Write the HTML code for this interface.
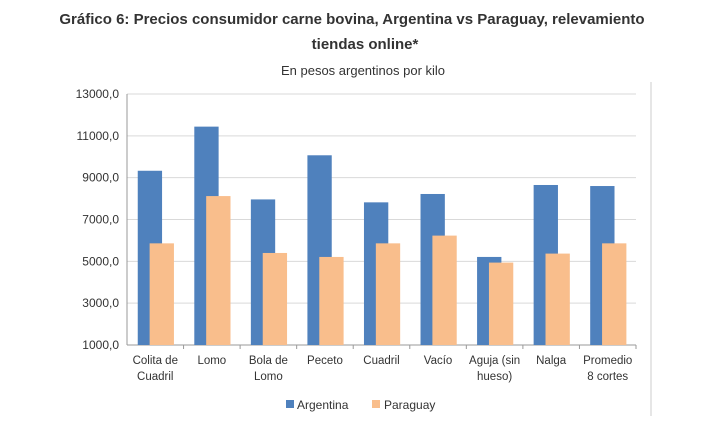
<!DOCTYPE html>
<html><head><meta charset="utf-8"><style>
body{margin:0;background:#fff;width:724px;height:416px;overflow:hidden;font-family:"Liberation Sans",sans-serif}
</style></head><body>
<svg width="724" height="416" xmlns="http://www.w3.org/2000/svg">
<text x="352" y="24" text-anchor="middle" font-size="15" font-weight="bold" fill="#333">Gráfico 6: Precios consumidor carne bovina, Argentina vs Paraguay, relevamiento</text>
<text x="365" y="49" text-anchor="middle" font-size="15" font-weight="bold" fill="#333">tiendas online*</text>
<text x="363" y="75" text-anchor="middle" font-size="13" fill="#333">En pesos argentinos por kilo</text>
<line x1="651" y1="82" x2="651" y2="416" stroke="#ccc"/>
<g id="grid"></g><g id="bars"></g><g id="xaxis"></g>
<g>
<rect x="286" y="400" width="8" height="8" fill="#4f81bd"/>
<text x="297" y="409" font-size="12" fill="#333">Argentina</text>
<rect x="372" y="400" width="8" height="8" fill="#f9be8c"/>
<text x="384" y="409" font-size="12" fill="#333">Paraguay</text>
</g>
</svg>
<script>
const categories=[["Colita de","Cuadril"],["Lomo"],["Bola de","Lomo"],["Peceto"],["Cuadril"],["Vacío"],["Aguja (sin","hueso)"],["Nalga"],["Promedio","8 cortes"]];
const argentina=[9330,11440,7960,10070,7820,8220,5210,8650,8600];
const paraguay=[5860,8120,5400,5210,5860,6230,4940,5370,5860];
const ticks=[1000,3000,5000,7000,9000,11000,13000];
const tickLabels=["1000,0","3000,0","5000,0","7000,0","9000,0","11000,0","13000,0"];
const NS="http://www.w3.org/2000/svg";
const X0=127,X1=636,Y0=345,Y1=94,VMIN=1000,VMAX=13000;
const cw=(X1-X0)/categories.length;
function y(v){return Y0-(v-VMIN)/(VMAX-VMIN)*(Y0-Y1);}
function mk(t,a,p){const e=document.createElementNS(NS,t);for(const k in a)e.setAttribute(k,a[k]);p.appendChild(e);return e;}
const g=document.getElementById('grid'),b=document.getElementById('bars'),xa=document.getElementById('xaxis');
ticks.forEach((t,i)=>{
 const l=mk('line',{x1:X0,x2:X1,y1:y(t),y2:y(t),stroke:i==0?'#999':'#d9d9d9'},g);
 
 
 const tx=mk('text',{x:X0-8,y:y(t)+4,'text-anchor':'end','font-size':12,fill:'#333'},g);
 tx.textContent=tickLabels[i];
 
 
});
const ax=mk('line',{x1:X0,x2:X0,y1:Y1,y2:Y0,stroke:'#999'},g);


const bw=cw*0.43;
categories.forEach((c,i)=>{
 const s=X0+i*cw;
 const bx=s+cw*0.19;
 const r1=mk('rect',{x:bx,y:y(argentina[i]),width:bw,height:Y0-y(argentina[i]),fill:'#4f81bd'},b);
 
 
 const r2=mk('rect',{x:bx+cw*0.21,y:y(paraguay[i]),width:bw,height:Y0-y(paraguay[i]),fill:'#f9be8c'},b);
 
 
 const tk=mk('line',{x1:s+cw,x2:s+cw,y1:Y0,y2:Y0+4,stroke:'#999'},xa);
 
 
 c.forEach((ln,j)=>{
  const t=mk('text',{x:s+cw/2,y:364+j*16,'text-anchor':'middle','font-size':11.5,fill:'#333'},xa);
  t.textContent=ln;
  
  
 });
});
</script>
</body></html>
